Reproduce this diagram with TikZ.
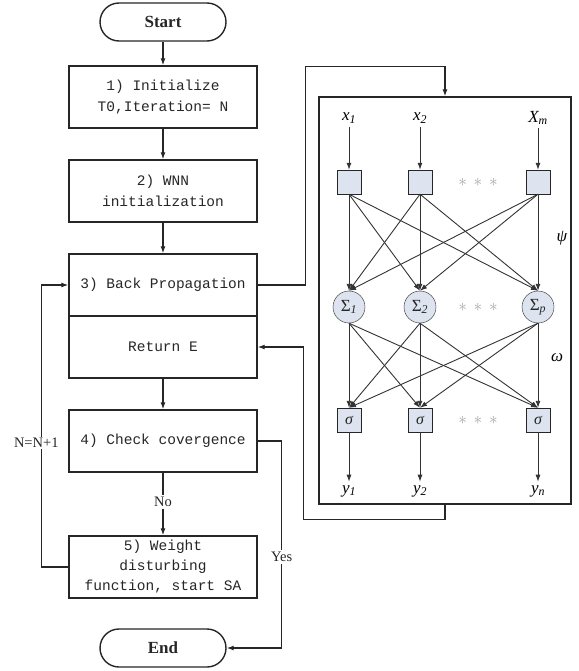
\documentclass[tikz,border=0pt]{standalone}
\usepackage{fontspec}
\setmainfont{Liberation Serif}
\newfontfamily\monofont{Liberation Mono}
\usetikzlibrary{
    arrows.meta,
    positioning
}
\definecolor{cellfill}{RGB}{222,227,240}
\tikzset{
    % Colors
    line color/.style={black!85},
    %
    % Arrows
    arrow tip/.tip={Latex[length=7pt,width=5pt]},
    arr/.style={->,>={arrow tip}},
    flow/.style={arr,line color,line width=1.3pt},
    link/.style={arr,black!80,line width=0.9pt},
    %
    % Flow chart
    stepbox/.style={draw,line color,line width=1.4pt,minimum width=188pt,minimum height=62pt,align=center,font=\monofont\fontsize{14.5}{21}\selectfont},
    terminal/.style={draw,line color,line width=1.4pt,rounded corners=19pt,minimum width=126pt,minimum height=38pt,font=\bfseries\fontsize{17}{17}\selectfont},
    tag/.style={fill=white,inner sep=2pt},
    %
    % Network
    cell/.style={draw,line color,fill=cellfill,inner sep=0pt,minimum size=24pt},
    neuron/.style={draw,line color,fill=cellfill,circle,inner sep=0pt,minimum size=32pt},
    var/.style={font=\itshape\fontsize{17}{17}\selectfont},
    dots/.style={gray!70,font=\fontsize{18}{18}\selectfont}
}
\tikzstyle{every node}=[font=\fontsize{14.5}{17}\selectfont]

\begin{document}
\begin{tikzpicture}[x=1pt,y=-1pt]
    \useasboundingbox (0,0) rectangle (578,671);
    % flow chart
    \node[terminal] (start) at (163,22) {Start};
    \node[stepbox] (init) at (163,97) {1) Initialize\\T0,Iteration= N};
    \node[stepbox] (wnn) at (163,191) {2) WNN\\initialization};
    \node[stepbox] (bp) at (163,285) {3) Back Propagation};
    \node[stepbox] (ret) at (163,347) {Return E};
    \node[stepbox] (check) at (163,441) {4) Check covergence};
    \node[stepbox,font=\monofont\fontsize{14.5}{20}\selectfont] (sa) at (163,567) {5) Weight\\disturbing\\function, start SA};
    \node[terminal] (stop) at (163,648) {End};
    \draw[flow] (start) -- (init);
    \draw[flow] (init) -- (wnn);
    \draw[flow] (wnn) -- (bp);
    \draw[flow] (ret) -- (check);
    \draw[flow] (check) -- node[tag,pos=.47] {No} (sa);
    \draw[flow] (sa.west) -| ([xshift=-27pt]bp.west) node[tag,pos=.72,inner sep=1pt,xshift=-5pt] {N=N+1} -- (bp.west);
    \draw[flow] (check.east) -- ++(24,0) |- node[tag,pos=.28] {Yes} (stop.east);
    % network
    \node[draw,line color,line width=1.1pt,minimum width=252pt,minimum height=407pt] (net) at (445,300.5) {};
    \coordinate (netin) at ([yshift=30pt]net.north);
    \coordinate (netout) at ([yshift=-15pt]net.south);
    \draw[flow] (bp.east) -- ++(48,0) |- (netin) -- (net.north);
    \draw[flow] (net.south) -- (netout) -| ([xshift=46pt]ret.east) -- (ret.east);
    \foreach \c/\xl/\xs/\ys/\s [count=\i] in {349/x/1/1/1,420/x/2/2/2,538/X/m/n/p}{
        \node[var] (x\i) at (\c,118) {\xl\textsubscript{\xs}};
        \node[cell] (in\i) at (\c,182) {};
        \node[neuron,font=\fontsize{17}{17}\selectfont] (sum\i) at (\c,307) {Σ\textsubscript{\itshape\s}};
        \node[cell,font=\itshape\fontsize{16}{16}\selectfont] (act\i) at (\c,420) {σ};
        \node[var] (y\i) at (\c,491) {y\textsubscript{\ys}};
        \draw[link] (x\i) -- (in\i);
        \draw[link] (act\i) -- (y\i);
    }
    \foreach \i in {1,2,3}
        \foreach \j in {1,2,3}{
            \draw[link] (in\i.south) -- (sum\j.north);
            \draw[link] (sum\i.south) -- (act\j.north);
        }
    \node[dots] (dotsin) at (478,182) {$\ast\,\ast\,\ast$};
    \node[dots] (dotssum) at (478,307) {$\ast\,\ast\,\ast$};
    \node[dots] (dotsact) at (478,420) {$\ast\,\ast\,\ast$};
    \node[var] (psi) at (562,238) {ψ};
    \node[var] (omega) at (557,358) {ω};
\end{tikzpicture}
\end{document}
